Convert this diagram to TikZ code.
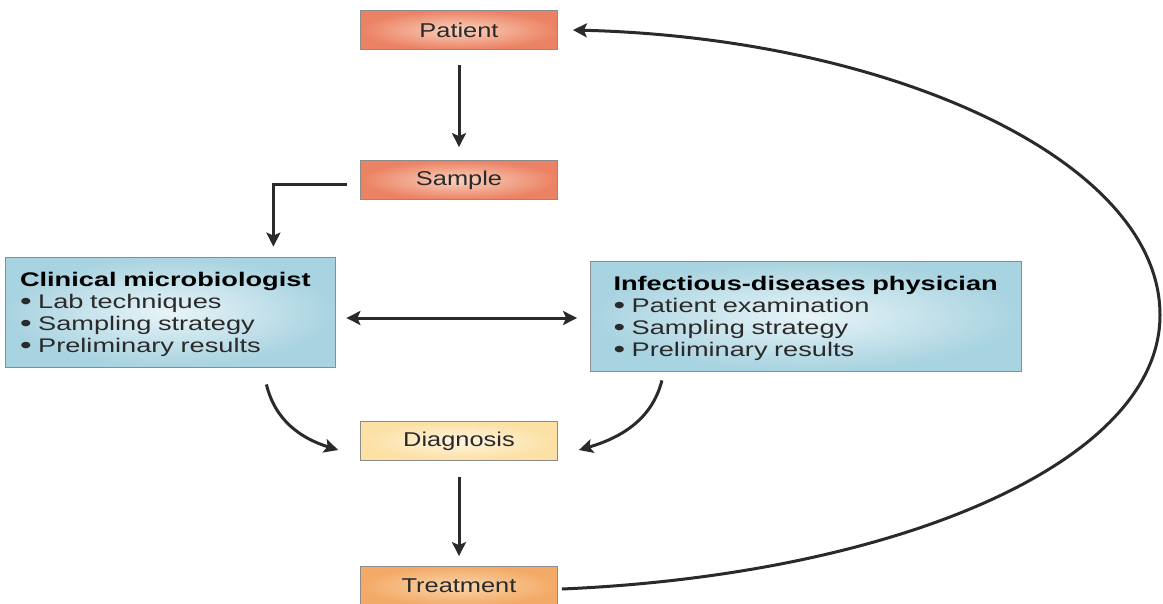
\documentclass[tikz,border=0pt]{standalone}
\usepackage{fontspec}
\setmainfont{Liberation Sans}[FakeStretch=1.38]
\newfontfamily\labelfont{Liberation Sans}[FakeStretch=1.27]
\usetikzlibrary{arrows.meta}
\definecolor{salmonOut}{HTML}{EC8264}
\definecolor{salmonIn}{HTML}{F9D2BE}
\definecolor{blueOut}{HTML}{A8D3E0}
\definecolor{blueIn}{HTML}{E8F4F8}
\definecolor{yellowOut}{HTML}{FCE0A4}
\definecolor{yellowIn}{HTML}{FEF5DE}
\definecolor{orangeOut}{HTML}{F3AA66}
\definecolor{orangeIn}{HTML}{FAD5AC}
\definecolor{inkGray}{HTML}{2A2A2A}
\newcommand{\bul}{\smash{\raisebox{-1pt}{\fontsize{24}{22}\selectfont\textbullet}}}
\begin{document}
\begin{tikzpicture}
        [x=1pt, y=-1pt, >={Stealth[length=14pt, width=14pt, inset=3pt]},
        box/.style={rectangle, draw=black!45, line width=0.8pt, minimum width=197pt, minimum height=39pt, text=inkGray, font=\labelfont\fontsize{20}{24}\selectfont},
        boxRed/.style={box, inner color=salmonIn, outer color=salmonOut},
        boxYellow/.style={box, inner color=yellowIn, outer color=yellowOut},
        boxOrange/.style={box, inner color=orangeIn, outer color=orangeOut},
        team/.style={rectangle, draw=black!45, line width=0.8pt, align=left, minimum height=110pt, inner color=blueIn, outer color=blueOut, text=inkGray, font=\fontsize{19.7}{22}\selectfont},
        link/.style={line width=3pt, draw=inkGray, ->}]
        \useasboundingbox (0,0) rectangle (1163,603);
        \node[boxRed] (P) at (459,30) {Patient};
        \node[boxRed] (S) at (459,180) {Sample};
        \node[team, text width=300pt, inner xsep=15pt] (CM) at (170,312) {\rule{0pt}{20pt}\textcolor{black}{\textbf{Clinical microbiologist}}\\ \bul\ Lab techniques\\ \bul\ Sampling strategy\\ \bul\ Preliminary results};
        \node[team, text width=385pt, inner xsep=23pt] (IP) at (806,316) {\rule{0pt}{20pt}\textcolor{black}{\textbf{Infectious-diseases physician}}\\ \bul\ Patient examination\\ \bul\ Sampling strategy\\ \bul\ Preliminary results};
        \node[boxYellow] (D) at (459,441) {Diagnosis};
        \node[boxOrange] (T) at (459,586) {Treatment};

        \draw[link] ([yshift=-15]P.south) -- ([yshift=13]S.north);
        \draw[link] ([xshift=-13,yshift=-4]S.west) -| ([xshift=-62,yshift=10]CM.north east);
        \draw[link, <->] ([xshift=11,yshift=-6]CM.east) -- ([xshift=-13,yshift=-2]IP.west);
        \draw[link] ([xshift=-69,yshift=-17]CM.south east) .. controls (275,420) and (300,438) .. ([xshift=-22,yshift=-9]D.west);
        \draw[link] ([xshift=-360,yshift=-9]IP.south east) .. controls (652,420) and (620,438) .. ([xshift=21,yshift=-9]D.east);
        \draw[link] ([yshift=-16]D.south) -- ([yshift=10]T.north);
        % back from treatment to patient
        \draw[link] ([xshift=4,yshift=-3]T.east) .. controls (890,575) and (1160,465) .. (1160,315) .. controls (1160,160) and (890,38) .. ([xshift=15]P.east);
\end{tikzpicture}
\end{document}
